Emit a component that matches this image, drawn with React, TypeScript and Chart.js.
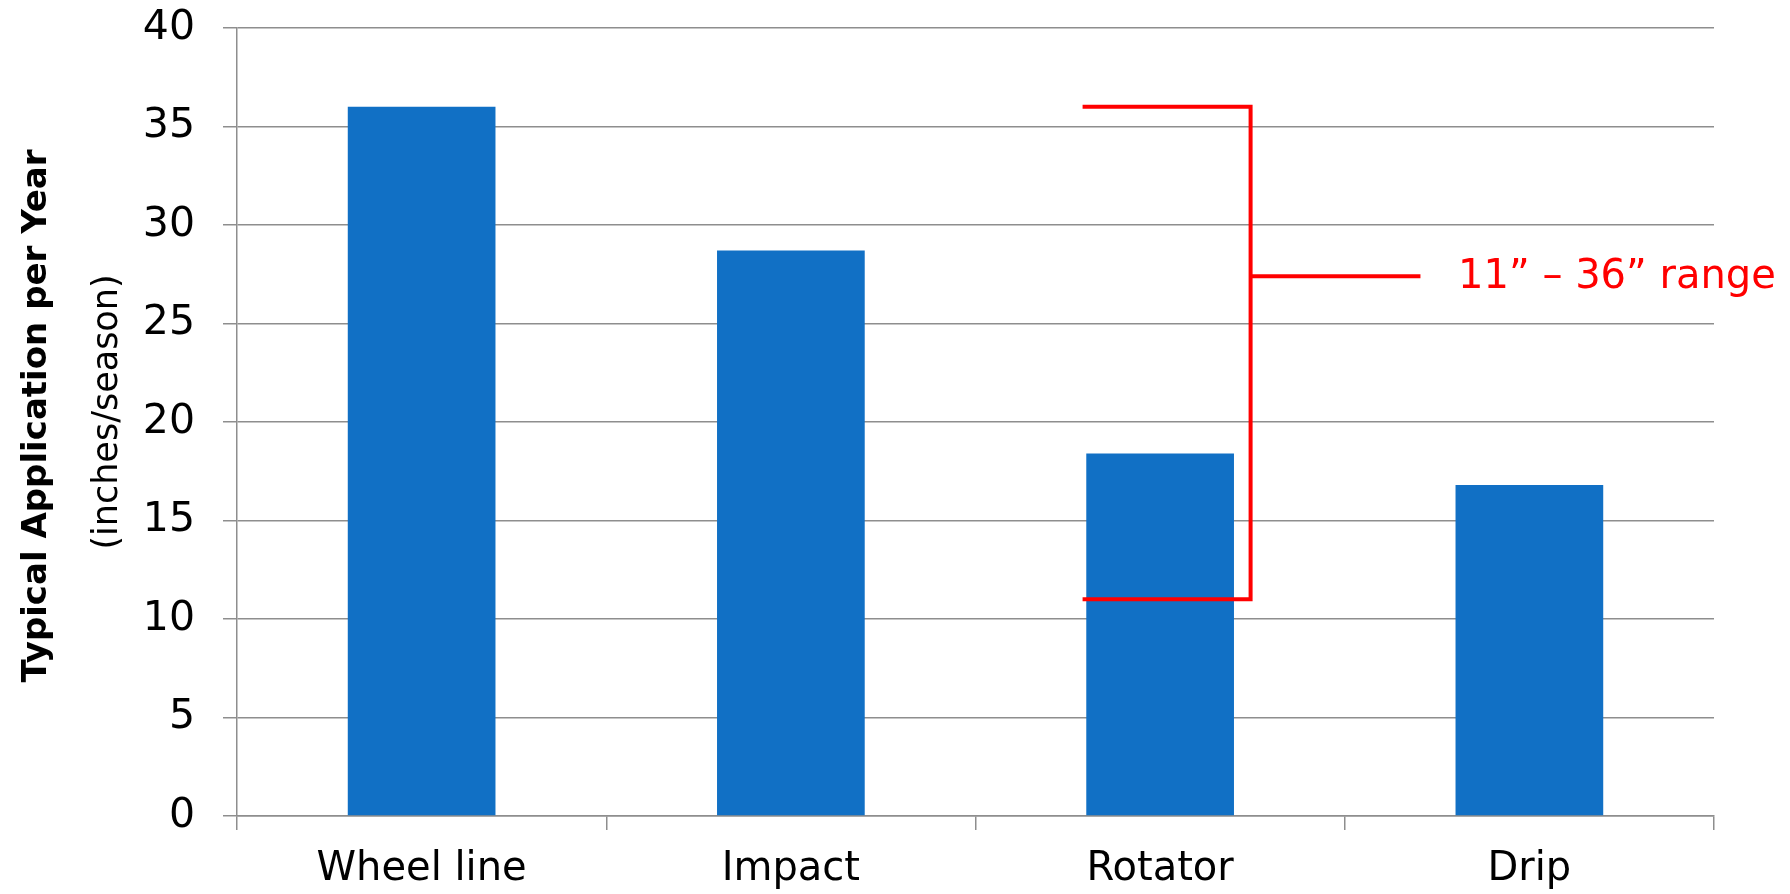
import { useEffect, useRef } from "react";
import { Chart, registerables } from "chart.js";

Chart.register(...registerables);

// Irrigation methods and their typical seasonal application depth
const categories = ["Wheel line", "Impact", "Rotator", "Drip"];
const applicationInches = [36, 28.7, 18.4, 16.8];

// Value axis
const yMin = 0;
const yMax = 40;
const yStep = 5;

// Annotated range bracket (inches) and its label
const rangeLow = 11;
const rangeHigh = 36;
const rangeArmValue = 27.4;
const rangeLabel = "11\u201D \u2013 36\u201D range";

const titleMain = "Typical Application per Year";
const titleSub = "(inches/season)";

const FONT = "'DejaVu Sans', 'Open Sans', sans-serif";
const BAR_COLOR = "#1170C5";
const GRID_COLOR = "#8E8E8E";
const RED = "#FF0000";

const axisTitlePlugin = {
  id: "axisTitle",
  afterDraw(chart: any) {
    const { ctx, chartArea } = chart;
    const cy = (chartArea.top + chartArea.bottom) / 2 - 6;
    ctx.save();
    ctx.fillStyle = "#000";
    ctx.textAlign = "center";
    ctx.textBaseline = "middle";
    ctx.translate(37, cy);
    ctx.rotate(-Math.PI / 2);
    ctx.font = `bold 34px ${FONT}`;
    ctx.fillText(titleMain, 0, 0);
    ctx.restore();

    ctx.save();
    ctx.fillStyle = "#000";
    ctx.textAlign = "center";
    ctx.textBaseline = "middle";
    ctx.translate(108, cy - 4);
    ctx.rotate(-Math.PI / 2);
    ctx.font = `35px ${FONT}`;
    ctx.fillText(titleSub, 0, 0);
    ctx.restore();
  },
};

const rangeBracketPlugin = {
  id: "rangeBracket",
  afterDatasetsDraw(chart: any) {
    const { ctx, scales } = chart;
    const x = scales.x;
    const y = scales.y;
    const center = x.getPixelForValue(2);
    const band = x.getPixelForValue(3) - x.getPixelForValue(2);
    const left = center - 0.21 * band;
    const spine = center + 0.245 * band;
    const armEnd = center + 0.705 * band;
    const top = y.getPixelForValue(rangeHigh);
    const bottom = y.getPixelForValue(rangeLow);
    const arm = y.getPixelForValue(rangeArmValue);

    ctx.save();
    ctx.strokeStyle = RED;
    ctx.lineWidth = 4;
    ctx.lineJoin = "miter";
    ctx.beginPath();
    ctx.moveTo(left, top);
    ctx.lineTo(spine, top);
    ctx.lineTo(spine, bottom);
    ctx.lineTo(left, bottom);
    ctx.stroke();
    ctx.beginPath();
    ctx.moveTo(spine, arm);
    ctx.lineTo(armEnd, arm);
    ctx.stroke();

    ctx.fillStyle = RED;
    ctx.font = `40px ${FONT}`;
    ctx.textAlign = "left";
    ctx.textBaseline = "middle";
    ctx.fillText(rangeLabel, center + 0.807 * band, arm + 1);
    ctx.restore();
  },
};

export default function App() {
  const canvasRef = useRef<HTMLCanvasElement | null>(null);

  useEffect(() => {
    const canvas = canvasRef.current;
    if (!canvas) return;
    const chart = new Chart(canvas, {
      type: "bar",
      data: {
        labels: categories,
        datasets: [
          {
            data: applicationInches,
            backgroundColor: BAR_COLOR,
            borderWidth: 0,
            categoryPercentage: 1,
            barPercentage: 0.4,
          },
        ],
      },
      options: {
        animation: false,
        responsive: false,
        maintainAspectRatio: false,
        layout: { padding: { left: 0, right: 76, top: 28, bottom: 0 } },
        plugins: {
          legend: { display: false },
          tooltip: { enabled: false },
          title: { display: false },
        },
        scales: {
          x: {
            grid: {
              display: true,
              drawOnChartArea: false,
              drawTicks: true,
              tickLength: 14,
              color: GRID_COLOR,
              lineWidth: 1.5,
            },
            border: { display: true, color: GRID_COLOR, width: 1.5 },
            ticks: {
              color: "#000",
              font: { family: FONT, size: 40 },
              padding: 16,
              maxRotation: 0,
            },
            afterFit(scale: any) {
              scale.height = 78;
              scale.paddingLeft = 0;
              scale.paddingRight = 0;
            },
          },
          y: {
            min: yMin,
            max: yMax,
            grid: {
              color: GRID_COLOR,
              lineWidth: 1.5,
              drawTicks: true,
              tickLength: 14,
            },
            border: { display: true, color: GRID_COLOR, width: 1.5 },
            ticks: {
              stepSize: yStep,
              color: "#000",
              font: { family: FONT, size: 41 },
              padding: 28,
            },
            afterFit(scale: any) {
              scale.width = 237;
              scale.paddingTop = 0;
              scale.paddingBottom = 0;
            },
          },
        },
      },
      plugins: [axisTitlePlugin, rangeBracketPlugin],
    });
    return () => chart.destroy();
  }, []);

  return (
    <div
      style={{
        position: "fixed",
        left: 0,
        top: 0,
        width: 1790,
        height: 894,
        background: "#fff",
      }}
    >
      <canvas ref={canvasRef} width={1790} height={894} />
    </div>
  );
}
